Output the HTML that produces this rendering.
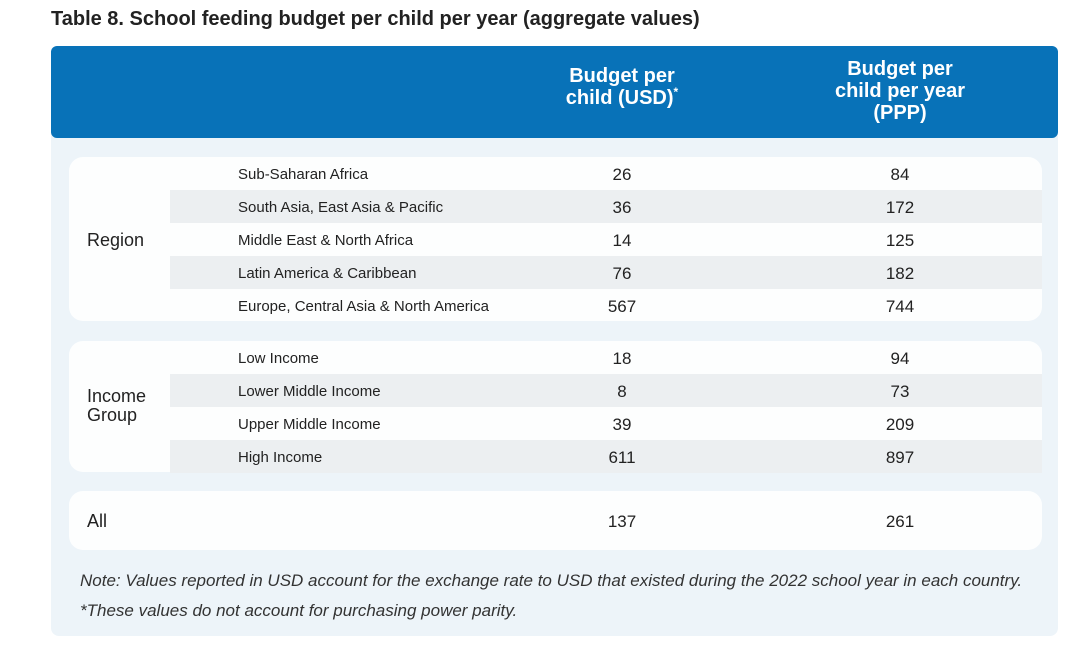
<!DOCTYPE html>
<html><head><meta charset="utf-8"><style>
body{margin:0;width:1080px;height:648px;background:#fff;font-family:"Liberation Sans","Noto Sans CJK SC",sans-serif;position:relative;overflow:hidden;color:#222}
.a{position:absolute}
.title{left:51px;top:8px;font-size:20px;font-weight:bold;color:#222}
.panel{left:51px;top:46px;width:1007px;height:590px;background:#edf4f9;border-radius:8px}
.head{left:51px;top:46px;width:1007px;height:92px;background:#0872b8;border-radius:6px}
.ht{color:#fff;font-weight:bold;font-size:20px;line-height:22px;text-align:center;width:220px}
.box{background:#fdfefe;border-radius:14px}
.shade{background:#eceff1}
.lab{left:238px}
.v{width:100px;text-align:center;font-size:17px}
.note{font-style:italic;font-size:17px;color:#333;left:80px}
.star{font-size:12px;position:relative;top:-8px;line-height:1}
</style></head><body>
<div class="a title">Table 8. School feeding budget per child per year (aggregate values)</div>
<div class="a panel"></div>
<div class="a head"></div>
<div class="a ht" style="left:512px;top:65px">Budget per<br>child (USD)<span class="star">*</span></div>
<div class="a ht" style="left:790px;top:58px">Budget per<br>child per year<br>(PPP)</div>

<div class="a box" style="left:69px;top:157px;width:973px;height:164px"></div>
<div class="a box" style="left:69px;top:341px;width:973px;height:131px"></div>
<div class="a box" style="left:69px;top:491px;width:973px;height:59px"></div>

<div class="a" style="left:87px;top:230px;font-size:18px">Region</div>
<div class="a" style="left:87px;top:387px;font-size:18px;line-height:19px">Income<br>Group</div>
<div class="a" style="left:87px;top:511px;font-size:18px">All</div>

<div id="rows"></div>
<div class="a note" style="top:571px">Note: Values reported in USD account for the exchange rate to USD that existed during the 2022 school year in each country.</div>
<div class="a note" style="top:601px">*These values do not account for purchasing power parity.</div>

<script>
const labels=["Sub-Saharan Africa","South Asia, East Asia & Pacific","Middle East & North Africa","Latin America & Caribbean","Europe, Central Asia & North America","Low Income","Lower Middle Income","Upper Middle Income","High Income","All"];
const usd=[26,36,14,76,567,18,8,39,611,137];
const ppp=[84,172,125,182,744,94,73,209,897,261];
const tops=[157,190,223,256,289,341,374,407,440,491];
const shaded=[false,true,false,true,false,false,true,false,true,false];
const c=document.getElementById('rows');
labels.forEach((l,i)=>{
  const h=i===9?59:33;
  if(shaded[i]){const s=document.createElement('div');s.className='a shade';
    s.style.cssText=`left:170px;top:${tops[i]}px;width:872px;height:${h}px`;
    
    
    c.appendChild(s);}
  const cy=tops[i]+h/2;
  if(i<9){const t=document.createElement('div');t.className='a lab';t.style.cssText=`top:${cy-8}px;font-size:15px`;t.textContent=l;
    
    
    c.appendChild(t);}
  const a=document.createElement('div');a.className='a v';a.style.cssText=`left:572px;top:${cy-9}px`;a.textContent=usd[i];
  
  
  c.appendChild(a);
  const b=document.createElement('div');b.className='a v';b.style.cssText=`left:850px;top:${cy-9}px`;b.textContent=ppp[i];
  
  
  c.appendChild(b);
});
</script>
</body></html>
